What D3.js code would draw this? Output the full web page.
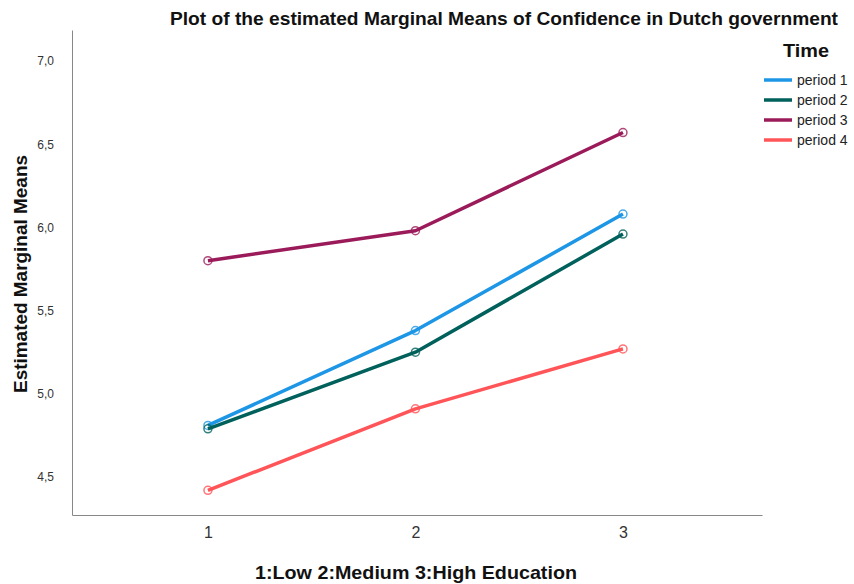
<!DOCTYPE html>
<html><head><meta charset="utf-8">
<script src="https://cdn.jsdelivr.net/npm/d3@7"></script>
<style>body{margin:0;background:#fff;} svg{display:block;}</style>
</head><body>
<script>
const categories = [1, 2, 3];
const seriesNames = ["period 1", "period 2", "period 3", "period 4"];
const period1 = [4.81, 5.38, 6.08];
const period2 = [4.79, 5.25, 5.96];
const period3 = [5.80, 5.98, 6.57];
const period4 = [4.42, 4.91, 5.27];
const yTicks = [4.5, 5.0, 5.5, 6.0, 6.5, 7.0];
const colors = ["#1e96e6", "#00615c", "#9b1b5a", "#ff5458"];

(function () {
const W = 854, H = 584;
const svg = d3.select("body").append("svg").attr("width", W).attr("height", H);
const mLeft = 72, mRight = 762, mTop = 30, mBottom = 515;
const x = d3.scaleLinear().domain([0.345, 3.67]).range([mLeft, mRight]);
const y = d3.scaleLinear().domain([4.272, 7.186]).range([mBottom, mTop]);
const font = "'Liberation Sans', Arial, sans-serif";

const yAxis = svg.append("g").attr("transform", `translate(${mLeft},0)`)
  .call(d3.axisLeft(y).tickValues(yTicks).tickSize(0).tickPadding(18)
    .tickFormat(d => d3.format(".1f")(d).replace(".", ",")));
yAxis.select(".domain").attr("stroke", "#888");
yAxis.selectAll("text").attr("font-family", font).attr("font-size", 12).attr("fill", "#333");

const xAxis = svg.append("g").attr("transform", `translate(0,${mBottom})`)
  .call(d3.axisBottom(x).tickValues(categories).tickSize(0).tickPadding(12).tickFormat(d3.format("d")));
xAxis.select(".domain").attr("stroke", "#888");
xAxis.selectAll("text").attr("font-family", font).attr("font-size", 16).attr("fill", "#333");

const all = [period1, period2, period3, period4];
const line = d3.line().x((d, i) => x(categories[i])).y(d => y(d));
all.forEach((vals, k) => {
  svg.append("path").datum(vals).attr("d", line).attr("fill", "none")
    .attr("stroke", colors[k]).attr("stroke-width", 3.5).attr("stroke-linejoin", "round");
  svg.selectAll(null).data(vals).enter().append("circle")
    .attr("cx", (d, i) => x(categories[i])).attr("cy", d => y(d)).attr("r", 4)
    .attr("fill", "none").attr("stroke", colors[k]).attr("stroke-width", 1.5).attr("opacity", 0.8);
});

svg.append("text").attr("x", 170).attr("y", 25)
  .attr("font-family", font).attr("font-weight", "bold").attr("font-size", 19).attr("fill", "#111")
  .attr("textLength", 668).attr("lengthAdjust", "spacingAndGlyphs")
  .text("Plot of the estimated Marginal Means of Confidence in Dutch government");

svg.append("text").attr("transform", "translate(27,393) rotate(-90)")
  .attr("font-family", font).attr("font-weight", "bold").attr("font-size", 19).attr("fill", "#111")
  .attr("textLength", 238).attr("lengthAdjust", "spacingAndGlyphs")
  .text("Estimated Marginal Means");
svg.append("text").attr("x", 255).attr("y", 579)
  .attr("font-family", font).attr("font-weight", "bold").attr("font-size", 19).attr("fill", "#111")
  .attr("textLength", 322).attr("lengthAdjust", "spacingAndGlyphs")
  .text("1:Low 2:Medium 3:High Education");

svg.append("text").attr("x", 783).attr("y", 57)
  .attr("font-family", font).attr("font-weight", "bold").attr("font-size", 18).attr("fill", "#111")
  .attr("textLength", 46).attr("lengthAdjust", "spacingAndGlyphs").text("Time");
const lg = svg.append("g");
seriesNames.forEach((n, k) => {
  const yy = 80 + k * 20;
  lg.append("line").attr("x1", 764).attr("x2", 792).attr("y1", yy).attr("y2", yy)
    .attr("stroke", colors[k]).attr("stroke-width", 3.5);
  lg.append("text").attr("x", 797).attr("y", yy + 5).attr("font-family", font)
    .attr("font-size", 14).attr("fill", "#222").text(n);
});
})();
</script>
</body></html>
